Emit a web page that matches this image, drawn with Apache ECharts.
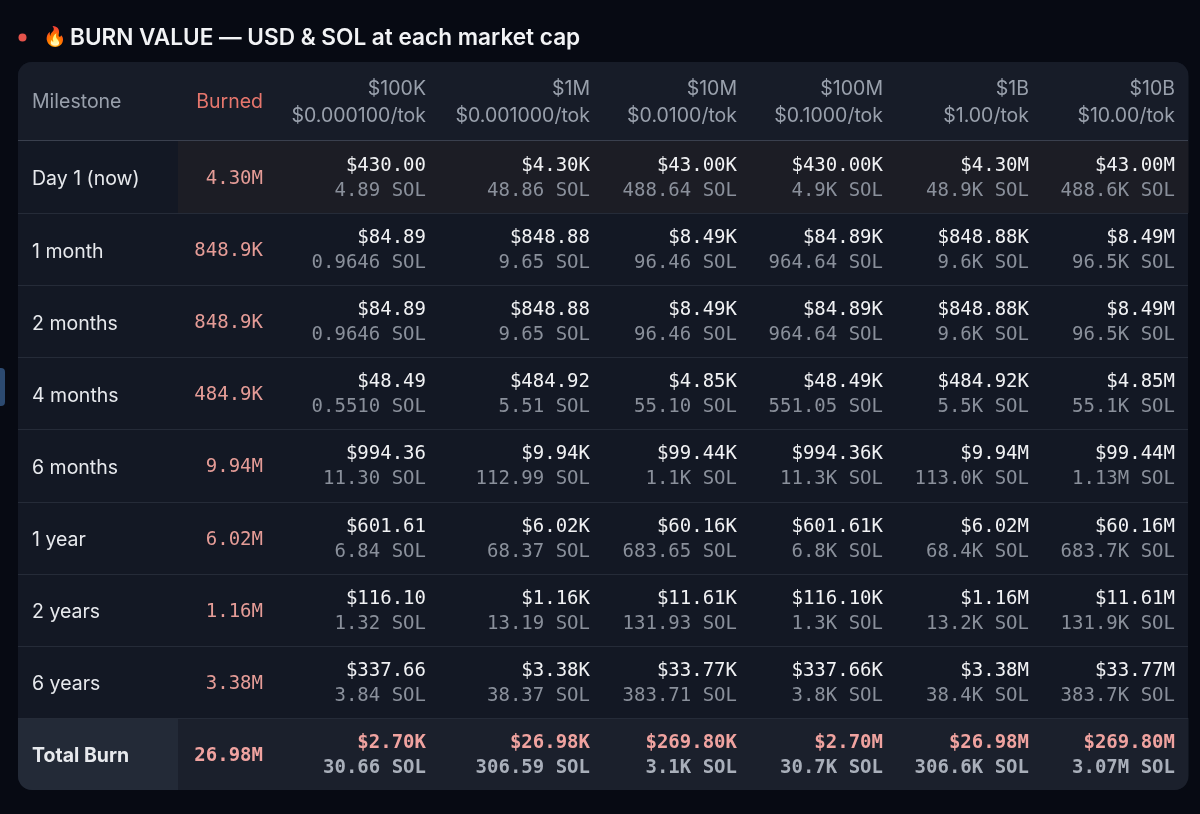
<!DOCTYPE html>
<html><head><meta charset="utf-8">
<script src="https://cdn.jsdelivr.net/npm/echarts@6/dist/echarts.min.js"></script>
<style>html,body{margin:0;padding:0;background:#070a13;}#c{width:1200px;height:814px;}</style>
</head><body><div id="c"></div>
<script>
// ---------- data ----------
const titleIcon = '🔥';
const titleText = 'BURN VALUE — USD & SOL at each market cap';
const milestones = ['Day 1 (now)', '1 month', '2 months', '4 months', '6 months', '1 year', '2 years', '6 years', 'Total Burn'];
const burned = ['4.30M', '848.9K', '848.9K', '484.9K', '9.94M', '6.02M', '1.16M', '3.38M', '26.98M'];
const capLabels = ['$100K', '$1M', '$10M', '$100M', '$1B', '$10B'];
const priceLabels = ['$0.000100/tok', '$0.001000/tok', '$0.0100/tok', '$0.1000/tok', '$1.00/tok', '$10.00/tok'];

const usd100K = ['$430.00', '$84.89', '$84.89', '$48.49', '$994.36', '$601.61', '$116.10', '$337.66', '$2.70K'];
const sol100K = ['4.89 SOL', '0.9646 SOL', '0.9646 SOL', '0.5510 SOL', '11.30 SOL', '6.84 SOL', '1.32 SOL', '3.84 SOL', '30.66 SOL'];
const usd1M = ['$4.30K', '$848.88', '$848.88', '$484.92', '$9.94K', '$6.02K', '$1.16K', '$3.38K', '$26.98K'];
const sol1M = ['48.86 SOL', '9.65 SOL', '9.65 SOL', '5.51 SOL', '112.99 SOL', '68.37 SOL', '13.19 SOL', '38.37 SOL', '306.59 SOL'];
const usd10M = ['$43.00K', '$8.49K', '$8.49K', '$4.85K', '$99.44K', '$60.16K', '$11.61K', '$33.77K', '$269.80K'];
const sol10M = ['488.64 SOL', '96.46 SOL', '96.46 SOL', '55.10 SOL', '1.1K SOL', '683.65 SOL', '131.93 SOL', '383.71 SOL', '3.1K SOL'];
const usd100M = ['$430.00K', '$84.89K', '$84.89K', '$48.49K', '$994.36K', '$601.61K', '$116.10K', '$337.66K', '$2.70M'];
const sol100M = ['4.9K SOL', '964.64 SOL', '964.64 SOL', '551.05 SOL', '11.3K SOL', '6.8K SOL', '1.3K SOL', '3.8K SOL', '30.7K SOL'];
const usd1B = ['$4.30M', '$848.88K', '$848.88K', '$484.92K', '$9.94M', '$6.02M', '$1.16M', '$3.38M', '$26.98M'];
const sol1B = ['48.9K SOL', '9.6K SOL', '9.6K SOL', '5.5K SOL', '113.0K SOL', '68.4K SOL', '13.2K SOL', '38.4K SOL', '306.6K SOL'];
const usd10B = ['$43.00M', '$8.49M', '$8.49M', '$4.85M', '$99.44M', '$60.16M', '$11.61M', '$33.77M', '$269.80M'];
const sol10B = ['488.6K SOL', '96.5K SOL', '96.5K SOL', '55.1K SOL', '1.13M SOL', '683.7K SOL', '131.9K SOL', '383.7K SOL', '3.07M SOL'];

const usdColumns = [usd100K, usd1M, usd10M, usd100M, usd1B, usd10B];
const solColumns = [sol100K, sol1M, sol10M, sol100M, sol1B, sol10B];

// ---------- layout ----------
const L = { left: 18, width: 1170, headTop: 62, headH: 79, bodyH: 649, colW: [160, 98, 163, 164, 147, 146, 146, 146], pad: 13, radius: 14 };
const colEdges = [0];
L.colW.forEach(w => colEdges.push(colEdges[colEdges.length - 1] + w));
const nCols = L.colW.length;

const SANS = 'Inter, "Noto Sans", sans-serif';
const MONO = '"DejaVu Sans Mono", monospace';
const C = {
  panel: '#131824', header: '#171c28', highlight: '#1c1d25', totalFirst: '#232a37', total: '#1b202c',
  rowLine: '#252b38', headLine: '#3a404e', headText: '#99a0ac', burnedHead: '#e6766d',
  label: '#e7e9ed', usd: '#f1f2f4', sol: '#8a909b', burned: '#e59c97', totalUsd: '#f0a3a0', totalSol: '#a9afba'
};
const SANS_SIZE = '19.5px ';
const MONO_SIZE = '19px ';

const chart = echarts.init(document.getElementById('c'), null, { renderer: 'canvas' });

const headerData = [];
for (let c = 0; c < nCols; c++) headerData.push([c, 0]);
const bodyData = [];
for (let r = 0; r < milestones.length; r++) for (let c = 0; c < nCols; c++) bodyData.push([c, r]);

function cellBox(api, c, r) {
  const bandH = api.size([0, 1])[1];
  const p = api.coord([colEdges[c], r]);
  const xr = api.coord([colEdges[c + 1], r])[0];
  return { xl: p[0], xr: xr, yc: p[1], top: p[1] - bandH / 2, h: bandH };
}

function txt(x, y, text, align, font, fill) {
  return { type: 'text', style: { x, y, text, textAlign: align, textVerticalAlign: 'middle', font, fill } };
}

function renderHeader(params, api) {
  const c = api.value(0), r = api.value(1);
  const b = cellBox(api, c, r);
  const radius = c === 0 ? [L.radius, 0, 0, 0] : (c === nCols - 1 ? [0, L.radius, 0, 0] : 0);
  const children = [
    { type: 'rect', shape: { x: b.xl, y: b.top, width: b.xr - b.xl + 0.5, height: b.h, r: radius }, style: { fill: C.header } },
    { type: 'line', shape: { x1: b.xl, y1: b.top + b.h - 0.5, x2: b.xr, y2: b.top + b.h - 0.5 }, style: { stroke: C.headLine, lineWidth: 1 } }
  ];
  const f = '400 ' + SANS_SIZE + SANS;
  if (c === 0) {
    children.push(txt(b.xl + L.pad + 1, b.yc + 1, 'Milestone', 'left', f, C.headText));
  } else if (c === 1) {
    children.push(txt(b.xr - L.pad, b.yc + 1, 'Burned', 'right', f, C.burnedHead));
  } else {
    children.push(txt(b.xr - L.pad, b.yc - 12, capLabels[c - 2], 'right', f, C.headText));
    children.push(txt(b.xr - L.pad, b.yc + 15, priceLabels[c - 2], 'right', f, C.headText));
  }
  return { type: 'group', children };
}

function renderBody(params, api) {
  const c = api.value(0), r = api.value(1);
  const b = cellBox(api, c, r);
  const last = milestones.length - 1;
  const isTotal = r === last;
  const children = [];
  let fill = null, radius = 0;
  if (isTotal) {
    fill = c === 0 ? C.totalFirst : C.total;
    radius = c === 0 ? [0, 0, 0, L.radius] : (c === nCols - 1 ? [0, 0, L.radius, 0] : 0);
  } else if (r === 0 && c >= 1) {
    fill = C.highlight;
  }
  if (fill) children.push({ type: 'rect', shape: { x: b.xl, y: b.top, width: b.xr - b.xl + 0.5, height: b.h, r: radius }, style: { fill } });
  if (r > 0) children.push({ type: 'line', shape: { x1: b.xl, y1: Math.round(b.top) + 0.5, x2: b.xr, y2: Math.round(b.top) + 0.5 }, style: { stroke: C.rowLine, lineWidth: 1 } });
  const wt = isTotal ? '700 ' : '400 ';
  const x = b.xr - L.pad;
  if (c === 0) {
    children.push(txt(b.xl + L.pad + 1, b.yc + 2.5, milestones[r], 'left', wt + SANS_SIZE + SANS, C.label));
  } else if (c === 1) {
    children.push(txt(x, b.yc + 2, burned[r], 'right', wt + MONO_SIZE + MONO, isTotal ? C.totalUsd : C.burned));
  } else {
    children.push(txt(x, b.yc - 11, usdColumns[c - 2][r], 'right', wt + MONO_SIZE + MONO, isTotal ? C.totalUsd : C.usd));
    children.push(txt(x, b.yc + 14, solColumns[c - 2][r], 'right', wt + MONO_SIZE + MONO, isTotal ? C.totalSol : C.sol));
  }
  return { type: 'group', children };
}

const option = {
  backgroundColor: '#070a13',
  animation: false,
  title: {
    text: titleText,
    left: 70, top: 27, padding: 0,
    textStyle: { fontFamily: SANS, fontSize: 22.6, fontWeight: 600, color: '#f2f3f5' }
  },
  graphic: [
    { type: 'circle', shape: { cx: 22.5, cy: 37.5, r: 4 }, style: { fill: '#e5534b' }, z: 0 },
    { type: 'text', style: { x: 43, y: 38, text: titleIcon, font: '19px sans-serif', textVerticalAlign: 'middle', textAlign: 'left' }, z: 0 },
    { type: 'rect', shape: { x: L.left, y: L.headTop, width: L.width, height: L.headH + L.bodyH, r: L.radius }, style: { fill: C.panel }, z: -10 },
    { type: 'rect', shape: { x: -5, y: 368, width: 10, height: 38, r: 4 }, style: { fill: '#2c4a70' }, z: 0 }
  ],
  grid: [
    { left: L.left, top: L.headTop, width: L.width, height: L.headH },
    { left: L.left, top: L.headTop + L.headH, width: L.width, height: L.bodyH }
  ],
  xAxis: [
    { type: 'value', gridIndex: 0, min: 0, max: colEdges[nCols], show: false },
    { type: 'value', gridIndex: 1, min: 0, max: colEdges[nCols], show: false }
  ],
  yAxis: [
    { type: 'category', gridIndex: 0, data: ['header'], show: false },
    { type: 'category', gridIndex: 1, data: milestones, inverse: true, show: false }
  ],
  series: [
    { type: 'custom', xAxisIndex: 0, yAxisIndex: 0, data: headerData, renderItem: renderHeader, clip: false, silent: true, z: 1 },
    { type: 'custom', xAxisIndex: 1, yAxisIndex: 1, data: bodyData, renderItem: renderBody, clip: false, silent: true, z: 2 }
  ]
};
chart.setOption(option);
</script>
</body></html>
